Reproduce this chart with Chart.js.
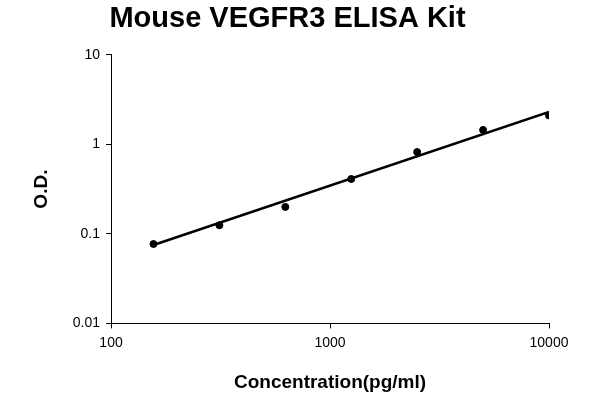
<!DOCTYPE html>
<html><head><script src="https://cdn.jsdelivr.net/npm/chart.js@4"></script>
<style>body{margin:0;background:#fff}#w{width:600px;height:400px}</style></head>
<body><div id="w"><canvas id="c"></canvas></div>
<script>
const concentrations=[156.25,312.5,625,1250,2500,5000,10000];
const odValues=[0.077,0.125,0.2,0.41,0.82,1.45,2.1];
const trendX=[156.25,10000];
const trendY=[0.075,2.3];
const xTicks=[100,1000,10000];
const yTicks=[0.01,0.1,1,10];
new Chart(document.getElementById('c'),{
 data:{datasets:[
  {type:'scatter',data:concentrations.map((x,i)=>({x,y:odValues[i]})),backgroundColor:'#000',borderColor:'#000',pointRadius:3.5},
  {type:'line',data:trendX.map((x,i)=>({x,y:trendY[i]})),borderColor:'#000',borderWidth:2.5,pointRadius:0}
 ]},
 options:{responsive:true,maintainAspectRatio:false,animation:false,
  layout:{padding:{left:26,right:51,top:0,bottom:2}},
  plugins:{legend:{display:false},tooltip:{enabled:false},
   title:{display:true,text:'Mouse VEGFR3 ELISA Kit',color:'#000',font:{family:'Liberation Sans',size:29,weight:'bold'},padding:{top:2,bottom:18}}},
  scales:{
   x:{type:'logarithmic',min:100,max:10000,
    afterBuildTicks:a=>{a.ticks=xTicks.map(v=>({value:v}))},
    ticks:{color:'#000',font:{family:'Liberation Sans',size:14},maxRotation:0,padding:6,callback:v=>String(v)},
    grid:{drawOnChartArea:false,color:'#000',tickLength:5},border:{color:'#000'},
    title:{display:true,text:'Concentration(pg/ml)',color:'#000',font:{family:'Liberation Sans',size:19,weight:'bold'},padding:{top:14}}},
   y:{type:'logarithmic',min:0.01,max:10,
    afterBuildTicks:a=>{a.ticks=yTicks.map(v=>({value:v}))},
    ticks:{color:'#000',font:{family:'Liberation Sans',size:14},callback:v=>String(v),padding:6},
    grid:{drawOnChartArea:false,color:'#000',tickLength:5},border:{color:'#000'},
    title:{display:true,text:'O.D.',color:'#000',font:{family:'Liberation Sans',size:19,weight:'bold'},padding:{bottom:14}}}
  }}
});
</script></body></html>
